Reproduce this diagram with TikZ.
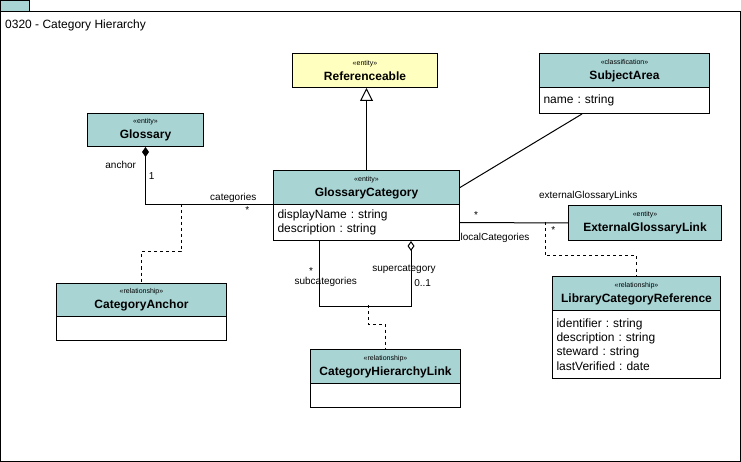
\documentclass[tikz,border=0pt]{standalone}
\usepackage{fontspec}
\setmainfont{Liberation Sans}
\usetikzlibrary{arrows.meta}
\frenchspacing
\definecolor{hdrteal}{HTML}{A9D4D4}
\definecolor{refyel}{HTML}{FFFFC0}
\tikzset{
  box/.style={draw, line width=1pt, anchor=north west, inner sep=0pt},
  hdr/.style={box, fill=hdrteal, align=center, font=\fontsize{12}{14}\selectfont\bfseries},
  attr/.style={box, fill=white, align=left, inner xsep=4pt, text width=#1,
    font=\fontsize{12}{14.2}\selectfont},
  lbl/.style={font=\fontsize{10}{12}\selectfont, inner sep=0pt, anchor=base},
  conn/.style={line width=1pt},
  dashconn/.style={line width=1pt, dash pattern=on 3pt off 3pt},
}
\newcommand{\stereo}[1]{{\fontsize{7}{8}\selectfont\mdseries «#1»}\\[0.6pt]}
\begin{document}
\begin{tikzpicture}[x=1pt,y=-1pt]
\useasboundingbox (0,0) rectangle (741,462);
% frame
\node[box, minimum width=740pt, minimum height=450pt] (frame) at (0,11) {};
\node[box, fill=hdrteal, minimum width=29pt, minimum height=11pt] (tab) at (0,0) {};
\node[lbl, anchor=base west, font=\fontsize{12}{14}\selectfont] (title) at (5,28.3) {0320 - Category Hierarchy};

% classes
\node[hdr, fill=refyel, minimum width=145pt, minimum height=34pt] (ref) at (292,53) {\stereo{entity}Referenceable};

\node[hdr, minimum width=170pt, minimum height=34pt] (sah) at (539,53) {\stereo{classification}SubjectArea};
\node[attr=162pt, minimum height=26pt] (saa) at (539,87) {name : string};

\node[hdr, minimum width=116pt, minimum height=33pt] (gl) at (87,113) {\stereo{entity}Glossary};

\node[hdr, minimum width=186pt, minimum height=34pt] (gch) at (273,170) {\stereo{entity}GlossaryCategory};
\node[attr=178pt, minimum height=36pt] (gca) at (273,204) {displayName : string\\description : string};

\node[hdr, minimum width=153pt, minimum height=35pt] (egl) at (568,205) {\stereo{entity}ExternalGlossaryLink};

\node[hdr, minimum width=170pt, minimum height=33pt] (cah) at (56,283) {\stereo{relationship}CategoryAnchor};
\node[attr=162pt, minimum height=24pt] (caa) at (56,316) {};

\node[hdr, minimum width=150pt, minimum height=34pt] (chh) at (310,349) {\stereo{relationship}CategoryHierarchyLink};
\node[attr=142pt, minimum height=24pt] (cha) at (310,383) {};

\node[hdr, minimum width=168pt, minimum height=34pt] (lch) at (552,276) {\stereo{relationship}LibraryCategoryReference};
\node[attr=160pt, minimum height=68pt] (lca) at (552,310) {identifier : string\\description : string\\steward : string\\lastVerified : date};

% connectors
\draw[conn, -{Triangle[open, length=13pt, width=13pt]}] (gch.north) -- (gch.north |- ref.south);
\draw[conn] ([xshift=43pt]saa.south west) -- (gch.east);
\draw[conn, {Diamond[length=10pt, width=7pt]}-] (gl.south) |- (gch.south west);
\draw[conn, {Diamond[open, fill=white, length=10pt, width=7pt]}-] ([xshift=138pt]gca.south west) -- ++(0,65) -| ([xshift=46pt]gca.south west);
\draw[conn] (gca.east) -- (egl.west);

\coordinate (ga) at (181,204);
\coordinate (sh) at (368,305);
\coordinate (el) at (545,222);
\draw[dashconn] (ga) -- (181,252) -| (cah.north);
\draw[dashconn] (sh) -- (368,324) -| (chh.north);
\draw[dashconn] (el) -- (545,256) -| (lch.north);

% labels
\node[lbl] (lanchor) at (120.7,169) {anchor};
\node[lbl] (lone) at (151.7,180) {1};
\node[lbl] (lcats) at (233.3,200.5) {categories};
\node[lbl] (lcatsm) at (247.3,214) {*};
\node[lbl] (lsubm) at (311,274.5) {*};
\node[lbl] (lsub) at (325.7,284.5) {subcategories};
\node[lbl] (lsup) at (404,271) {supercategory};
\node[lbl] (lsupm) at (422.7,286) {0..1};
\node[lbl] (lext) at (588.3,198.5) {externalGlossaryLinks};
\node[lbl] (lextm) at (476,219) {*};
\node[lbl] (lloc) at (495,240.5) {localCategories};
\node[lbl] (llocm) at (553.3,233.4) {*};
\end{tikzpicture}
\end{document}
